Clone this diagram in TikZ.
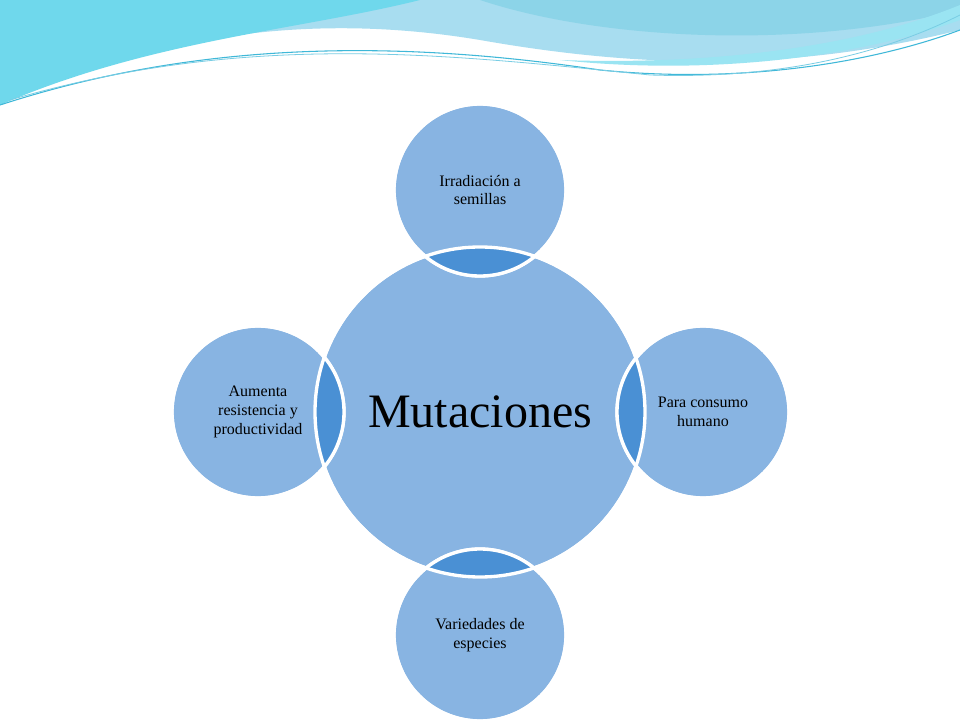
\documentclass[tikz,border=0pt]{standalone}
\usepackage{fontspec}
\setmainfont{Liberation Serif}
\definecolor{cfill}{HTML}{88B4E2}
\definecolor{cdark}{HTML}{4A90D4}
\definecolor{wave1}{HTML}{6FD8EC}
\definecolor{wave2}{HTML}{A8DDF0}
\definecolor{wave3}{HTML}{3FB8D8}
\begin{document}
\begin{tikzpicture}[x=0.75pt,y=-0.75pt]
\tikzset{big/.style={circle,fill=cfill,draw=white,line width=2.5pt,minimum size=330*0.75pt,inner sep=0pt},
small/.style={circle,fill=cfill,draw=white,line width=2.5pt,minimum size=172*0.75pt,inner sep=0pt},
lbl/.style={align=center,font=\fontsize{12}{14}\selectfont}}
\useasboundingbox[fill=white] (0,0) rectangle (960,720);
% waves
\fill[wave2] (0,0) -- (960,0) -- (960,30) .. controls (800,70) and (650,70) .. (480,40) .. controls (300,10) and (150,40) .. (0,100) -- cycle;
\fill[wave1] (0,0) -- (420,0) .. controls (300,30) and (150,40) .. (0,105) -- cycle;
\fill[wave3!60] (480,0) .. controls (600,40) and (800,50) .. (960,10) -- (960,0) -- cycle;
\fill[wave1!70] (960,20) .. controls (850,60) and (700,75) .. (560,60) .. controls (700,65) and (850,50) .. (960,5) -- cycle;
\draw[wave3,line width=0.8pt] (0,105) .. controls (200,40) and (400,40) .. (600,70) .. controls (750,85) and (880,60) .. (960,30);
\draw[wave3!70,line width=0.6pt] (10,100) .. controls (250,30) and (450,55) .. (650,75) .. controls (800,80) and (900,45) .. (960,15);
% circles
\node[big] (m) at (480,412) {};
\node[small] (t) at (480,190) {};
\node[small] (r) at (703,412) {};
\node[small] (b) at (480,635) {};
\node[small] (l) at (258,412) {};
\begin{scope}
\clip (480,412) circle[radius=165];
\foreach \p in {(480,190),(703,412),(480,635),(258,412)}
  \fill[cdark] \p circle[radius=86];
\end{scope}
\foreach \n in {t,r,b,l} \draw[white,line width=2.5pt] (\n) circle[radius=86];
\draw[white,line width=2.5pt] (m) circle[radius=165];
\node[font=\fontsize{36}{42}\selectfont] at (m) {Mutaciones};
\node[lbl] at (t) {Irradiación a\\semillas};
\node[lbl] at (r) {Para consumo\\humano};
\node[lbl] at (b) {Variedades de\\especies};
\node[lbl] at (l) {Aumenta\\resistencia y\\productividad};
\end{tikzpicture}
\end{document}
